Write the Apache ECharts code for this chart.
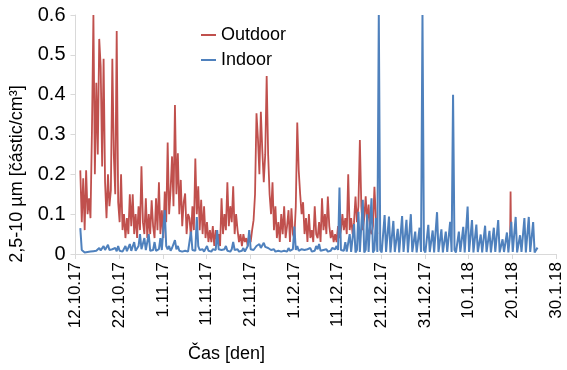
<!DOCTYPE html>
<html>
<head>
<meta charset="utf-8">
<script src="https://cdn.jsdelivr.net/npm/echarts@6/dist/echarts.min.js"></script>
<style>
html,body{margin:0;padding:0;background:#fff;}
#chart{width:567px;height:370px;}
</style>
</head>
<body>
<div id="chart"></div>
<script>
// x tick labels (every 10 days starting 12.10.17)
const tickLabels = ['12.10.17','22.10.17','1.11.17','11.11.17','21.11.17','1.12.17','11.12.17','21.12.17','31.12.17','10.1.18','20.1.18','30.1.18'];
const xTitle = 'Čas [den]';
const yTitle = '2,5-10 µm [částic/cm³]';
const seriesNames = ['Outdoor', 'Indoor'];

// sampling: day offset from 12.10.17 of first sample, samples per day
const startDay = 1.1;
const samplesPerDay = 3;

// Outdoor values (3 per day, days 1..69)
const outdoor = [
0.21,0.08,0.19, 0.06,0.21,0.1, 0.14,0.09,0.31, 0.6,0.2,0.43, 0.25,0.54,0.47,
0.22,0.49,0.18, 0.09,0.2,0.12, 0.16,0.49,0.25, 0.15,0.56,0.13, 0.08,0.2,0.06,
0.1,0.04,0.09, 0.05,0.15,0.07, 0.15,0.05,0.1, 0.04,0.12,0.06, 0.22,0.08,0.05,
0.14,0.04,0.1, 0.05,0.135,0.07, 0.04,0.14,0.06, 0.18,0.05,0.11, 0.04,0.157,0.08,
0.28,0.1,0.16, 0.245,0.12,0.374, 0.15,0.253,0.1, 0.186,0.07,0.13, 0.152,0.05,0.1,
0.09,0.04,0.12, 0.06,0.24,0.1, 0.17,0.06,0.136, 0.05,0.12,0.04, 0.08,0.03,0.06,
0.03,0.07,0.02, 0.06,0.03,0.05, 0.02,0.14,0.05, 0.1,0.06,0.18, 0.07,0.12,0.08,
0.17,0.05,0.1, 0.06,0.03,0.05, 0.02,0.05,0.03, 0.04,0.02,0.05, 0.03,0.06,0.085,
0.15,0.353,0.29, 0.2,0.357,0.26, 0.18,0.25,0.447, 0.25,0.15,0.1, 0.18,0.06,0.12,
0.04,0.08,0.03, 0.1,0.05,0.12, 0.04,0.07,0.11, 0.03,0.115,0.05, 0.04,0.12,0.33,
0.21,0.15,0.1, 0.13,0.05,0.09, 0.03,0.1,0.04, 0.06,0.03,0.12, 0.05,0.04,0.08,
0.03,0.14,0.06, 0.1,0.05,0.144, 0.07,0.04,0.06, 0.03,0.05,0.03, 0.07,0.04,0.06,
0.1,0.06,0.09, 0.05,0.2,0.06, 0.09,0.05,0.08, 0.144,0.08,0.12, 0.286,0.12,0.06,
0.09,0.145,0.08, 0.124,0.06,0.05, 0.07,0.169,0.09, 0.05
];

// single late outdoor reading near 20.1.18
const outdoorLateDays = [99.5, 99.6, 99.7];
const outdoorLateValues = [0.05, 0.157, 0.06];

// Indoor values (3 per day, days 1..105)
const indoor = [
0.065,0.01,0.005, 0.004,0.006,0.005, 0.008,0.006,0.01, 0.007,0.012,0.008, 0.01,0.015,0.009,
0.012,0.02,0.01, 0.008,0.023,0.01, 0.006,0.012,0.008, 0.015,0.007,0.02, 0.008,0.012,0.006,
0.01,0.02,0.007, 0.012,0.025,0.008, 0.01,0.03,0.008, 0.012,0.02,0.05, 0.012,0.008,0.04,
0.01,0.015,0.05, 0.008,0.012,0.01, 0.03,0.008,0.01, 0.012,0.04,0.01, 0.008,0.11,0.02,
0.012,0.02,0.008, 0.015,0.01,0.035, 0.012,0.02,0.008, 0.012,0.006,0.01, 0.008,0.012,0.006,
0.01,0.056,0.01, 0.012,0.008,0.093, 0.02,0.01,0.008, 0.012,0.006,0.01, 0.02,0.008,0.01,
0.006,0.012,0.008, 0.01,0.06,0.012, 0.008,0.01,0.006, 0.012,0.02,0.008, 0.01,0.006,0.012,
0.03,0.01,0.008, 0.012,0.006,0.01, 0.008,0.015,0.006, 0.01,0.02,0.06, 0.012,0.008,0.01,
0.015,0.02,0.018, 0.025,0.015,0.02, 0.028,0.018,0.02, 0.015,0.012,0.01, 0.008,0.012,0.006,
0.01,0.008,0.012, 0.006,0.01,0.008, 0.012,0.006,0.015, 0.008,0.01,0.012, 0.069,0.01,0.02,
0.008,0.006,0.012, 0.008,0.01,0.006, 0.012,0.008,0.015, 0.006,0.01,0.008, 0.02,0.012,0.025,
0.008,0.006,0.01, 0.008,0.012,0.006, 0.01,0.008,0.015, 0.01,0.012,0.02, 0.01,0.167,0.01,
0.005,0.008,0.03, 0.006,0.008,0.05, 0.005,0.01,0.075, 0.004,0.01,0.106, 0.005,0.01,0.136,
0.004,0.01,0.1, 0.005,0.01,0.14, 0.004,0.01,0.09, 0.005,0.6,0.01, 0.004,0.008,0.098,
0.005,0.008,0.094, 0.004,0.008,0.083, 0.005,0.008,0.063, 0.004,0.008,0.095, 0.005,0.008,0.086,
0.004,0.008,0.1, 0.005,0.008,0.056, 0.004,0.008,0.066, 0.005,0.6,0.01, 0.004,0.008,0.073,
0.005,0.008,0.059, 0.004,0.008,0.105, 0.005,0.008,0.062, 0.004,0.008,0.056, 0.005,0.008,0.081,
0.005,0.4,0.01, 0.004,0.008,0.056, 0.005,0.008,0.068, 0.004,0.008,0.119, 0.005,0.008,0.085,
0.004,0.008,0.074, 0.005,0.008,0.049, 0.004,0.008,0.071, 0.005,0.008,0.058, 0.004,0.008,0.066,
0.005,0.008,0.085, 0.004,0.008,0.037, 0.005,0.008,0.054, 0.004,0.008,0.081, 0.005,0.008,0.093,
0.004,0.008,0.047, 0.005,0.008,0.09, 0.004,0.008,0.093, 0.005,0.008,0.08, 0.004,0.008,0.016
];

function sampled(values) {
  return values.map((v, i) => [startDay + i / samplesPerDay, v]);
}
function paired(days, values) {
  return days.map((d, i) => [d, values[i]]);
}

const RED = '#C0504D';
const BLUE = '#4F81BD';
const FONT = 'Liberation Sans, Arial, sans-serif';
const chart = echarts.init(document.getElementById('chart'), null, {renderer: 'canvas'});
chart.setOption({
  animation: false,
  backgroundColor: '#fff',
  grid: {left: 75.5, right: 11, top: 15, bottom: 116, containLabel: false},
  legend: {
    data: seriesNames,
    orient: 'vertical',
    left: 196, top: 21,
    icon: 'rect',
    itemWidth: 15, itemHeight: 2, itemGap: 7,
    textStyle: {fontFamily: FONT, fontSize: 18, color: '#000', lineHeight: 18}
  },
  xAxis: {
    type: 'value', min: 0, max: 110, interval: 10,
    axisLine: {show: true, lineStyle: {color: '#d9d9d9', width: 1}},
    axisTick: {show: true, length: 5, lineStyle: {color: '#d9d9d9'}},
    splitLine: {show: false},
    axisLabel: {
      rotate: 90, margin: 8, color: '#000', fontFamily: FONT, fontSize: 17,
      formatter: v => tickLabels[Math.round(v / 10)] || ''
    }
  },
  yAxis: {
    type: 'value', min: 0, max: 0.6, interval: 0.1,
    axisLine: {show: true, lineStyle: {color: '#d9d9d9', width: 1}},
    axisTick: {show: true, length: 5, lineStyle: {color: '#d9d9d9'}},
    splitLine: {show: false},
    axisLabel: {
      margin: 10, color: '#000', fontFamily: FONT, fontSize: 20,
      formatter: v => (Math.round(v * 10) / 10).toString()
    }
  },
  graphic: [
    {type: 'text', left: 188, top: 345,
     style: {text: xTitle, font: '18px ' + FONT, fill: '#000'}},
    {type: 'text', x: 17, y: 174, rotation: Math.PI / 2,
     style: {text: yTitle, font: '18px ' + FONT, fill: '#000', textAlign: 'center', textVerticalAlign: 'middle'}}
  ],
  series: [
    {name: 'Outdoor', type: 'line', data: sampled(outdoor), symbol: 'none',
     lineStyle: {color: RED, width: 1.8}, itemStyle: {color: RED}},
    {name: 'Outdoor', type: 'line', data: paired(outdoorLateDays, outdoorLateValues), symbol: 'none',
     lineStyle: {color: RED, width: 1.8}, itemStyle: {color: RED}},
    {name: 'Indoor', type: 'line', data: sampled(indoor), symbol: 'none',
     lineStyle: {color: BLUE, width: 2}, itemStyle: {color: BLUE}}
  ]
});
</script>
</body>
</html>
